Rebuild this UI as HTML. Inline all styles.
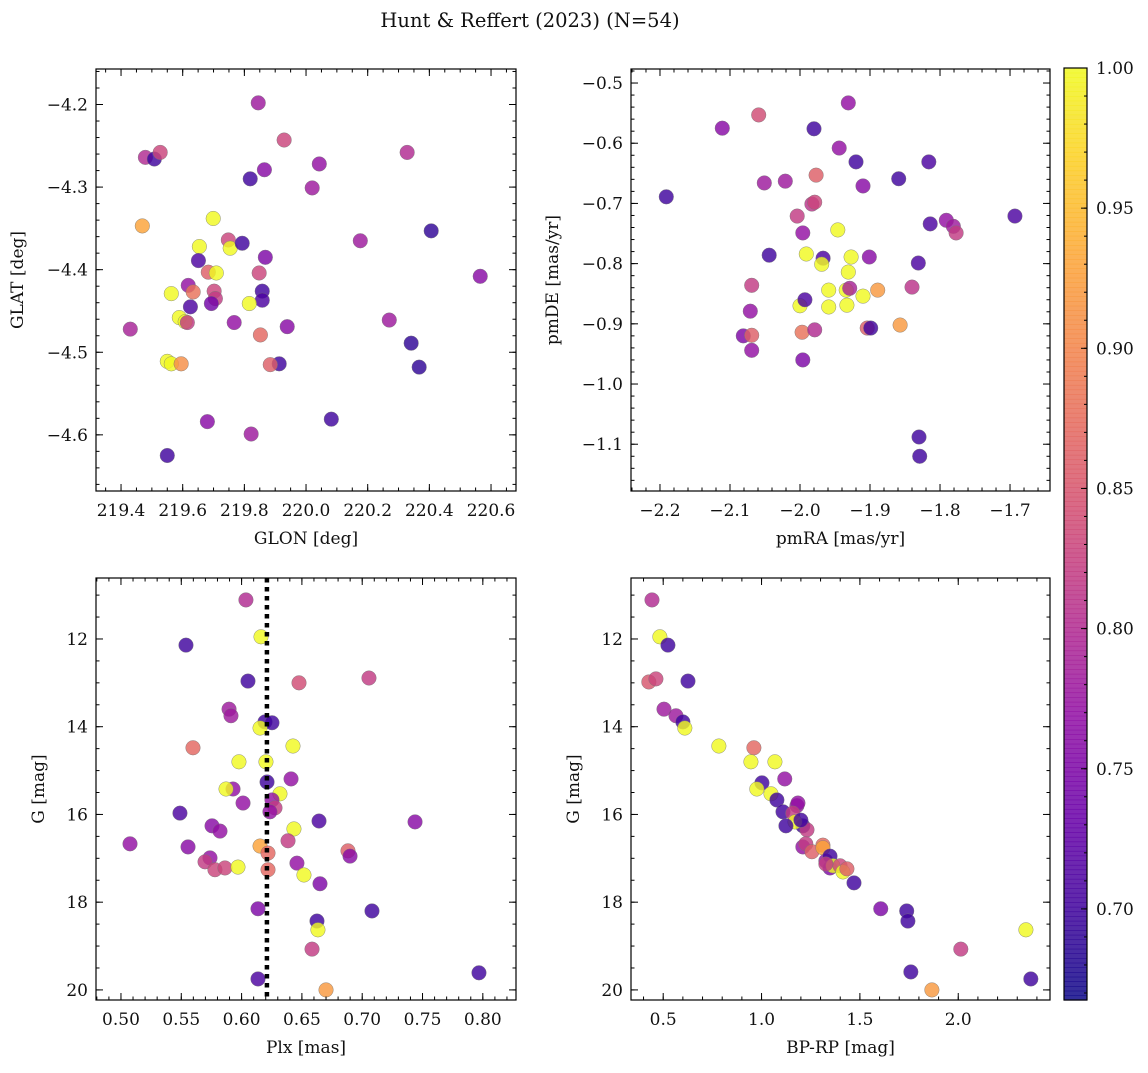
<!DOCTYPE html>
<html><head><meta charset="utf-8"><style>
html,body{margin:0;padding:0;background:#fff;}
svg text{font-family:"DejaVu Serif","Liberation Serif",serif;fill:#111;}
</style></head><body>
<svg id="fig" width="1148" height="1068" viewBox="0 0 1148 1068" xmlns="http://www.w3.org/2000/svg">
<rect width="1148" height="1068" fill="#fff"/>
<text x="530" y="27" font-size="19.5" text-anchor="middle">Hunt &amp; Reffert (2023) (N=54)</text>
</svg>
<script>
// ---- Data ----
const tlGlon=[219.845,219.479,219.508,219.527,219.929,220.043,220.328,220.020,219.819,219.865,219.469,219.699,219.654,219.748,219.754,219.793,220.176,220.406,219.651,219.868,219.683,219.709,219.848,220.565,219.618,219.634,219.563,219.858,219.702,219.706,219.693,219.858,219.816,219.625,219.589,219.608,219.615,219.767,219.939,220.270,219.430,219.852,219.550,219.563,219.595,219.913,219.884,220.341,220.367,219.680,220.082,219.822,219.550];
const tlGlat=[-4.198,-4.264,-4.266,-4.258,-4.243,-4.272,-4.258,-4.301,-4.290,-4.279,-4.347,-4.338,-4.372,-4.364,-4.374,-4.368,-4.365,-4.353,-4.389,-4.385,-4.403,-4.404,-4.404,-4.408,-4.419,-4.427,-4.429,-4.426,-4.426,-4.435,-4.441,-4.437,-4.441,-4.445,-4.458,-4.463,-4.464,-4.464,-4.469,-4.461,-4.472,-4.479,-4.511,-4.514,-4.514,-4.514,-4.515,-4.489,-4.518,-4.584,-4.581,-4.599,-4.625];
const tlProb=[0.78,0.80,0.70,0.83,0.83,0.77,0.80,0.78,0.70,0.76,0.93,1.0,1.0,0.83,1.0,0.70,0.78,0.69,0.71,0.75,0.86,1.0,0.83,0.76,0.77,0.88,1.0,0.70,0.83,0.82,0.74,0.71,1.0,0.71,1.0,1.0,0.82,0.77,0.76,0.78,0.79,0.87,1.0,1.0,0.91,0.70,0.86,0.69,0.69,0.76,0.70,0.78,0.70];

const trPmra=[-2.059,-2.111,-1.931,-1.980,-1.944,-1.920,-1.816,-2.191,-2.051,-2.021,-1.977,-1.910,-1.859,-1.983,-1.979,-2.004,-1.946,-1.814,-1.791,-1.781,-1.777,-1.693,-1.996,-2.044,-1.991,-1.967,-1.969,-1.927,-1.901,-1.831,-1.931,-2.069,-1.959,-1.934,-1.929,-1.889,-1.840,-1.910,-2.071,-2.000,-1.959,-1.933,-1.993,-2.081,-2.069,-1.997,-1.979,-1.904,-1.899,-1.857,-2.069,-1.996,-1.830,-1.829];
const trPmde=[-0.553,-0.575,-0.533,-0.576,-0.608,-0.631,-0.631,-0.689,-0.666,-0.663,-0.653,-0.671,-0.659,-0.701,-0.698,-0.721,-0.744,-0.734,-0.728,-0.738,-0.749,-0.721,-0.749,-0.786,-0.784,-0.791,-0.801,-0.789,-0.789,-0.799,-0.814,-0.836,-0.844,-0.844,-0.841,-0.844,-0.839,-0.854,-0.879,-0.870,-0.872,-0.869,-0.860,-0.920,-0.919,-0.914,-0.910,-0.907,-0.907,-0.902,-0.944,-0.960,-1.088,-1.120];
const trProb=[0.84,0.76,0.77,0.70,0.77,0.70,0.71,0.70,0.78,0.78,0.86,0.76,0.70,0.81,0.83,0.82,1.0,0.71,0.77,0.78,0.82,0.71,0.77,0.70,1.0,0.71,1.0,1.0,0.76,0.71,1.0,0.82,1.0,1.0,0.79,0.92,0.81,1.0,0.77,1.0,1.0,1.0,0.71,0.75,0.86,0.88,0.80,0.86,0.70,0.92,0.77,0.75,0.70,0.70];

const blPlx=[0.6036,0.5539,0.6161,0.6053,0.6476,0.7056,0.5896,0.5912,0.6194,0.6252,0.6153,0.5597,0.6426,0.5978,0.6202,0.6410,0.5929,0.5871,0.6211,0.6318,0.6252,0.6012,0.6277,0.6235,0.5489,0.7438,0.6642,0.6434,0.5755,0.5821,0.5075,0.5556,0.6385,0.6153,0.6219,0.6459,0.6882,0.6899,0.5738,0.5697,0.5779,0.5862,0.5970,0.6219,0.6517,0.6650,0.6136,0.7081,0.6625,0.6633,0.6584,0.6136,0.7968,0.6700];
const blG=[11.11,12.14,11.95,12.96,13.00,12.89,13.60,13.75,13.89,13.91,14.03,14.48,14.44,14.80,14.80,15.19,15.42,15.42,15.26,15.53,15.67,15.74,15.85,15.94,15.97,16.17,16.15,16.33,16.26,16.38,16.67,16.74,16.60,16.72,16.88,17.11,16.83,16.95,16.99,17.08,17.26,17.22,17.20,17.26,17.38,17.58,18.15,18.20,18.43,18.63,19.07,19.75,19.61,20.00];
const blProb=[0.80,0.70,1.0,0.70,0.84,0.82,0.78,0.78,0.70,0.70,1.0,0.87,1.0,1.0,1.0,0.77,0.77,1.0,0.70,1.0,0.77,0.77,0.82,0.77,0.71,0.76,0.71,1.0,0.76,0.77,0.77,0.76,0.82,0.93,0.87,0.77,0.86,0.76,0.77,0.82,0.83,0.83,1.0,0.87,1.0,0.75,0.75,0.70,0.70,1.0,0.82,0.71,0.70,0.92];
const meanPlx=0.621;

const brBprp=[0.443,0.483,0.524,0.427,0.463,0.626,0.504,0.565,0.600,0.610,0.783,0.961,0.946,1.068,1.118,1.002,0.976,1.048,1.078,1.109,1.180,1.185,1.159,1.210,1.170,1.231,1.124,1.200,1.210,1.225,1.312,1.256,1.312,1.327,1.348,1.348,1.363,1.399,1.414,1.434,1.327,1.470,1.606,1.738,1.744,2.013,1.759,1.866,2.344,2.369];
const brG=[11.11,11.95,12.14,12.98,12.91,12.96,13.60,13.75,13.89,14.03,14.44,14.48,14.80,14.80,15.19,15.28,15.42,15.53,15.67,15.94,15.80,15.74,15.97,16.26,16.17,16.35,16.26,16.13,16.74,16.67,16.70,16.85,16.76,17.06,16.95,17.22,17.17,17.17,17.31,17.24,17.13,17.56,18.15,18.20,18.43,19.07,19.59,20.00,18.63,19.75];
const brProb=[0.80,1.0,0.70,0.85,0.83,0.70,0.78,0.78,0.70,1.0,1.0,0.87,1.0,1.0,0.77,0.70,1.0,1.0,0.70,0.70,0.77,0.77,0.82,0.70,1.0,0.82,0.70,0.70,0.77,0.82,0.87,0.86,0.93,0.77,0.70,0.75,1.0,0.83,1.0,0.86,0.82,0.70,0.75,0.70,0.70,0.82,0.70,0.92,1.0,0.70];

const cbTicks=[0.70,0.75,0.80,0.85,0.90,0.95,1.00];
const vmin=0.6675, vmax=1.0;

// ---- helpers ----
const NS='http://www.w3.org/2000/svg';
const svg=document.getElementById('fig');
const FS=17;
function mk(tag,attrs,parent){const e=document.createElementNS(NS,tag);for(const k in attrs)e.setAttribute(k,attrs[k]);(parent||svg).appendChild(e);return e;}
const plasmaStops=['#0d0887','#41049d','#6a00a8','#8f0da4','#b12a90','#cc4778','#e16462','#f2844b','#fca636','#fcce25','#f0f921'];
function hex2rgb(h){return [parseInt(h.substr(1,2),16),parseInt(h.substr(3,2),16),parseInt(h.substr(5,2),16)];}
function plasma(t){t=Math.max(0,Math.min(1,t));const s=t*10;const i=Math.min(9,Math.floor(s));const f=s-i;const a=hex2rgb(plasmaStops[i]),b=hex2rgb(plasmaStops[i+1]);
 return 'rgb('+a.map((v,k)=>Math.round(v+(b[k]-v)*f)).join(',')+')';}
function colorOf(p){return plasma((p-vmin)/(vmax-vmin));}
function fmtNum(v,d){const s=Math.abs(v).toFixed(d);return (v<-1e-9?'\u2212':'')+s;}

function panel(c){
 const g=mk('g',{});
 
 
 const X=v=>c.x0+(v-c.xa)/(c.xb-c.xa)*(c.x1-c.x0);
 const Y=v=>c.y0+(v-c.ya)/(c.yb-c.ya)*(c.y1-c.y0);
 const pg=mk('g',{},g);
 
 
 for(let i=0;i<c.xs.length;i++){
  const cx=X(c.xs[i]),cy=Y(c.ys[i]);
  const pt=mk('circle',{cx:cx,cy:cy,r:7.3,fill:colorOf(c.ps[i]),'fill-opacity':0.82,stroke:'#777','stroke-width':0.5,'stroke-opacity':0.8},pg);
  
  
 }
 if(c.extra)c.extra(g,X,Y);
 const tg=mk('g',{stroke:'#000','stroke-width':1},g);
 const lo=(a,b)=>Math.min(a,b),hi=(a,b)=>Math.max(a,b);
 function ticksX(step,len){const a=lo(c.xa,c.xb),b=hi(c.xa,c.xb);for(let k=Math.ceil(a/step-1e-6);k<=Math.floor(b/step+1e-6);k++){const x=X(k*step);mk('line',{x1:x,x2:x,y1:c.y1,y2:c.y1-len},tg);mk('line',{x1:x,x2:x,y1:c.y0,y2:c.y0+len},tg);}}
 function ticksY(step,len){const a=lo(c.ya,c.yb),b=hi(c.ya,c.yb);for(let k=Math.ceil(a/step-1e-6);k<=Math.floor(b/step+1e-6);k++){const y=Y(k*step);mk('line',{y1:y,y2:y,x1:c.x0,x2:c.x0+len},tg);mk('line',{y1:y,y2:y,x1:c.x1,x2:c.x1-len},tg);}}
 ticksX(c.xminor,3.5);ticksX(c.xmajor,7);ticksY(c.yminor,3.5);ticksY(c.ymajor,7);
 const fr=mk('rect',{x:c.x0,y:c.y0,width:c.x1-c.x0,height:c.y1-c.y0,fill:'none',stroke:'#000','stroke-width':1.2},g);
 
 
 c.xticks.forEach(v=>{const t=mk('text',{x:X(v),y:c.y1+25,'font-size':FS,'text-anchor':'middle'},g);t.textContent=fmtNum(v,c.xd);
  
  });
 c.yticks.forEach(v=>{const t=mk('text',{x:c.x0-8,y:Y(v)+6,'font-size':FS,'text-anchor':'end'},g);t.textContent=fmtNum(v,c.yd);
  
  });
 const xl=mk('text',{x:(c.x0+c.x1)/2,y:c.y1+53,'font-size':FS,'text-anchor':'middle'},g);xl.textContent=c.xlabel;
 
 
 const yx=c.ylx, yy=(c.y0+c.y1)/2;
 const yl=mk('text',{x:yx,y:yy,'font-size':FS,'text-anchor':'middle',transform:'rotate(-90 '+yx+' '+yy+')'},g);yl.textContent=c.ylabel;
 
 
}

panel({name:'glon-glat-panel',x0:96,x1:516,y0:69,y1:491,xa:219.3188,xb:220.681,ya:-4.157,yb:-4.668,
 xs:tlGlon,ys:tlGlat,ps:tlProb,xmajor:0.2,xminor:0.05,ymajor:0.1,yminor:0.02,
 xticks:[219.4,219.6,219.8,220.0,220.2,220.4,220.6],xd:1,yticks:[-4.2,-4.3,-4.4,-4.5,-4.6],yd:1,
 xlabel:'GLON [deg]',ylabel:'GLAT [deg]',ylx:23});
panel({name:'proper-motion-panel',x0:631,x1:1050,y0:69,y1:491,xa:-2.2414,xb:-1.6429,ya:-0.4767,yb:-1.1777,
 xs:trPmra,ys:trPmde,ps:trProb,xmajor:0.1,xminor:0.02,ymajor:0.1,yminor:0.02,
 xticks:[-2.2,-2.1,-2.0,-1.9,-1.8,-1.7],xd:1,yticks:[-0.5,-0.6,-0.7,-0.8,-0.9,-1.0,-1.1],yd:1,
 xlabel:'pmRA [mas/yr]',ylabel:'pmDE [mas/yr]',ylx:558});
panel({name:'parallax-mag-panel',x0:96,x1:516,y0:578,y1:1000,xa:0.4793,xb:0.8275,ya:10.61,yb:20.23,
 xs:blPlx,ys:blG,ps:blProb,xmajor:0.05,xminor:0.01,ymajor:2,yminor:0.5,
 xticks:[0.50,0.55,0.60,0.65,0.70,0.75,0.80],xd:2,yticks:[12,14,16,18,20],yd:0,
 xlabel:'Plx [mas]',ylabel:'G [mag]',ylx:44,
 extra:(g,X,Y)=>{const l=mk('line',{x1:X(meanPlx),x2:X(meanPlx),y1:578,y2:1000,stroke:'#000','stroke-width':4.5,'stroke-dasharray':'4.5,4.5'},g);
  
  }});
panel({name:'cmd-panel',x0:631,x1:1050,y0:578,y1:1000,xa:0.3363,xb:2.4665,ya:10.61,yb:20.23,
 xs:brBprp,ys:brG,ps:brProb,xmajor:0.5,xminor:0.1,ymajor:2,yminor:0.5,
 xticks:[0.5,1.0,1.5,2.0],xd:1,yticks:[12,14,16,18,20],yd:0,
 xlabel:'BP-RP [mag]',ylabel:'G [mag]',ylx:579});

// ---- colorbar ----
(function(){
 const cx0=1064,cx1=1087,cy0=68,cy1=1000;
 const g=mk('g',{});
 
 
 const CY=v=>cy1-(v-vmin)/(vmax-vmin)*(cy1-cy0);
 const n=200;
 for(let i=0;i<n;i++){const y0=cy1-(i+1)*(cy1-cy0)/n;mk('rect',{x:cx0,y:y0,width:cx1-cx0,height:(cy1-cy0)/n+0.6,fill:plasma((i+0.5)/n),'fill-opacity':0.85},g);}
 mk('rect',{x:cx0,y:cy0,width:cx1-cx0,height:cy1-cy0,fill:'none',stroke:'#000','stroke-width':1.2},g);
 for(let k=Math.ceil(vmin*100);k<=100;k++){const y=CY(k/100);mk('line',{x1:cx1,x2:cx1-3,y1:y,y2:y,stroke:'#000','stroke-width':1},g);}
 cbTicks.forEach(v=>{const y=CY(v);mk('line',{x1:cx1,x2:cx1-6,y1:y,y2:y,stroke:'#000','stroke-width':1},g);
  const t=mk('text',{x:cx1+9,y:y+6,'font-size':FS},g);t.textContent=v.toFixed(2);
  
  });
})();
</script>
</body></html>
